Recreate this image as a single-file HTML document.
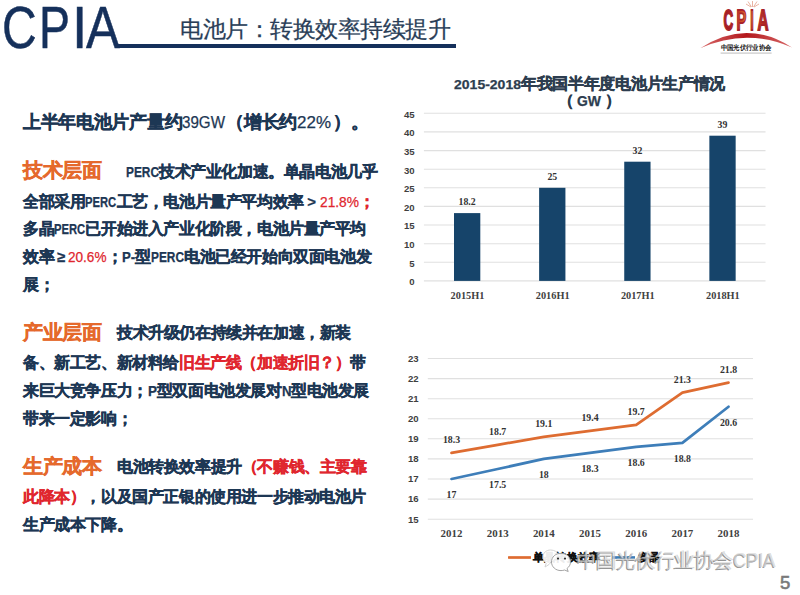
<!DOCTYPE html>
<html><head><meta charset="utf-8">
<style>
html,body{margin:0;padding:0;background:#fff;}
body{width:800px;height:595px;overflow:hidden;position:relative;font-family:"Liberation Sans",sans-serif;}
.ln{position:absolute;white-space:nowrap;line-height:20px;font-weight:bold;}
i{display:inline-block;width:1em;text-align:center;font-style:normal;}
.ln i{-webkit-text-stroke:0.4px currentColor;}
.l{display:inline-block;white-space:nowrap;}
.l em{display:inline-block;font-style:normal;white-space:pre;-webkit-text-stroke:0.25px currentColor;}
.n{color:#1D3754;}
.o{color:#E5692C;}
.ln .o i{-webkit-text-stroke:0.45px currentColor;}
.r{color:#E0262E;}
.ch{position:absolute;left:0;top:0;}
.ax{font-size:9.6px;fill:#3F3F3F;font-family:"Liberation Sans",sans-serif;font-weight:bold;}
.dl{font-size:9.8px;fill:#333;font-family:"Liberation Serif",serif;font-weight:bold;}
.xl{font-size:10px;fill:#404040;font-family:"Liberation Serif",serif;font-weight:bold;}
.xb{font-size:10.3px;}
.t{color:#2D3D4F;}
.k{color:#111;}
.cp{position:absolute;top:-5px;font-size:59px;line-height:66px;color:#15305B;transform-origin:0 0;-webkit-text-stroke:0.5px #15305B;}
#hline{position:absolute;left:116px;top:44px;width:340px;height:4px;background:#15305B;}
#title{position:absolute;left:180px;top:16px;font-size:22.5px;line-height:28px;color:#2A3E58;white-space:nowrap;-webkit-text-stroke:0.25px #2A3E58;}
#pg{position:absolute;left:780px;top:572px;font-size:18.5px;font-weight:normal;color:#7A7A7A;-webkit-text-stroke:0.6px #7A7A7A;}
#wm{position:absolute;left:576.5px;top:547px;font-size:19.5px;line-height:26px;color:rgba(235,235,235,0.55);white-space:nowrap;
  text-shadow:-0.8px 0.6px 0 rgba(130,130,130,0.85),0.5px -0.4px 0 rgba(200,200,200,0.7);}
</style></head><body>
<div class="cp" style="left:2.46px;transform:scaleX(0.8135)">C</div><div class="cp" style="left:39.06px;transform:scaleX(0.7875)">P</div><div class="cp" style="left:71.73px;transform:scaleX(0.9333)">I</div><div class="cp" style="left:86.00px;transform:scaleX(0.8564)">A</div>
<div id="hline"></div>
<svg class="ch" width="800" height="60" viewBox="0 0 800 60">
<defs>
<radialGradient id="lg" gradientUnits="userSpaceOnUse" cx="748" cy="17" r="22">
<stop offset="0" stop-color="#E8812E"/><stop offset="0.5" stop-color="#C73A26"/><stop offset="1" stop-color="#A51C22"/>
</radialGradient>
<linearGradient id="ag" x1="0" y1="0" x2="1" y2="0">
<stop offset="0" stop-color="#D86A6A"/><stop offset="0.5" stop-color="#B3171C"/><stop offset="1" stop-color="#D86A6A"/>
</linearGradient>
</defs>
<g stroke="#E3A08A" stroke-width="0.8">
<line x1="752.5" y1="7" x2="752.5" y2="1"/><line x1="751.5" y1="7" x2="748" y2="1.5"/><line x1="753.5" y1="7" x2="757" y2="1.5"/>
<line x1="751" y1="7" x2="746" y2="4"/><line x1="754" y1="7" x2="759" y2="4"/>
</g>
<g font-family="Liberation Sans" font-weight="bold" font-size="30" fill="url(#lg)" stroke="#A8242A" stroke-width="1.8"><text x="723.5" y="30" textLength="9.7" lengthAdjust="spacingAndGlyphs">C</text><text x="736.6" y="30" textLength="9.8" lengthAdjust="spacingAndGlyphs">P</text><text x="750.3" y="30" textLength="3.4" lengthAdjust="spacingAndGlyphs">I</text><text x="757.5" y="30" textLength="11" lengthAdjust="spacingAndGlyphs">A</text></g>
<path d="M700.2,48.3 Q746,18 792,47.5 Q746,27.5 700.2,48.3 Z" fill="url(#ag)"/>
<text x="720.6" y="50.3" textLength="51" lengthAdjust="spacingAndGlyphs" font-family="Liberation Sans" font-weight="bold" font-size="7" fill="#1A1A1A">中国光伏行业协会</text>
<rect x="720.6" y="52.5" width="51" height="1.2" fill="#C8C8C8"/>
</svg>
<div id="title"><span class=""><i>电</i><i>池</i><i>片</i><i>：</i><i>转</i><i>换</i><i>效</i><i>率</i><i>持</i><i>续</i><i>提</i><i>升</i></span></div>
<div class="ln" style="left:23px;top:112px;font-size:17.7px;"><span class="n"><i>上</i><i>半</i><i>年</i><i>电</i><i>池</i><i>片</i><i>产</i><i>量</i><i>约</i></span><span class="l n" style="width:44px;text-align:left"><em style="font-size:17px;font-weight:normal;transform:scaleX(0.8923);transform-origin:0 0">39GW</em></span><span class="n"><i>（</i><i>增</i><i>长</i><i>约</i></span><span class="l n" style="width:36px;text-align:left"><em style="font-size:17px;font-weight:normal;transform:scaleX(0.9991);transform-origin:0 0">22%</em></span><span class="n"><i>）</i><i>。</i></span></div>
<div class="ln" style="left:23px;top:159.5px;font-size:19.5px;"><span class="o"><i>技</i><i>术</i><i>层</i><i>面</i></span></div>
<div class="ln" style="left:126px;top:161.5px;font-size:15.6px;"><span class="l n" style="width:33px;text-align:left"><em style="font-size:14px;font-weight:bold;transform:scaleX(0.8482);transform-origin:0 0">PERC</em></span><span class="n"><i>技</i><i>术</i><i>产</i><i>业</i><i>化</i><i>加</i><i>速</i><i>。</i><i>单</i><i>晶</i><i>电</i><i>池</i><i>几</i><i>乎</i></span></div>
<div class="ln" style="left:23px;top:192px;font-size:15.6px;"><span class="n"><i>全</i><i>部</i><i>采</i><i>用</i></span><span class="l n" style="width:31.2px;text-align:left"><em style="font-size:14px;font-weight:bold;transform:scaleX(0.8019);transform-origin:0 0">PERC</em></span><span class="n"><i>工</i><i>艺</i><i>，</i><i>电</i><i>池</i><i>片</i><i>量</i><i>产</i><i>平</i><i>均</i><i>效</i><i>率</i></span><span class="l n" style="width:16px;text-align:center"><em style="font-size:15px;font-weight:bold;transform:scaleX(1.0000);transform-origin:50% 0">&gt;</em></span><span class="l r" style="width:39px;text-align:left"><em style="font-size:14.5px;font-weight:normal;transform:scaleX(0.9483);transform-origin:0 0">21.8%</em></span><span class="r"><i>；</i></span></div>
<div class="ln" style="left:23px;top:219px;font-size:15.6px;"><span class="n"><i>多</i><i>晶</i></span><span class="l n" style="width:31.2px;text-align:left"><em style="font-size:14px;font-weight:bold;transform:scaleX(0.8019);transform-origin:0 0">PERC</em></span><span class="n"><i>已</i><i>开</i><i>始</i><i>进</i><i>入</i><i>产</i><i>业</i><i>化</i><i>阶</i><i>段</i><i>，</i><i>电</i><i>池</i><i>片</i><i>量</i><i>产</i><i>平</i><i>均</i></span></div>
<div class="ln" style="left:23px;top:247px;font-size:15.6px;"><span class="n"><i>效</i><i>率</i></span><span class="l n" style="width:14px;text-align:center"><em style="font-size:15px;font-weight:bold;transform:scaleX(1.0000);transform-origin:50% 0">≥</em></span><span class="l r" style="width:38.5px;text-align:left"><em style="font-size:14.5px;font-weight:normal;transform:scaleX(0.9362);transform-origin:0 0">20.6%</em></span><span class="n"><i>；</i></span><span class="l n" style="width:13.2px;text-align:left"><em style="font-size:14px;font-weight:bold;transform:scaleX(0.9429);transform-origin:0 0">P-</em></span><span class="n"><i>型</i></span><span class="l n" style="width:33px;text-align:left"><em style="font-size:14px;font-weight:bold;transform:scaleX(0.8482);transform-origin:0 0">PERC</em></span><span class="n"><i>电</i><i>池</i><i>已</i><i>经</i><i>开</i><i>始</i><i>向</i><i>双</i><i>面</i><i>电</i><i>池</i><i>发</i></span></div>
<div class="ln" style="left:23px;top:275px;font-size:15.6px;"><span class="n"><i>展</i><i>；</i></span></div>
<div class="ln" style="left:23px;top:321.5px;font-size:19.5px;"><span class="o"><i>产</i><i>业</i><i>层</i><i>面</i></span></div>
<div class="ln" style="left:117px;top:322.5px;font-size:15.6px;"><span class="n"><i>技</i><i>术</i><i>升</i><i>级</i><i>仍</i><i>在</i><i>持</i><i>续</i><i>并</i><i>在</i><i>加</i><i>速</i><i>，</i><i>新</i><i>装</i></span></div>
<div class="ln" style="left:23px;top:353px;font-size:15.6px;"><span class="n"><i>备</i><i>、</i><i>新</i><i>工</i><i>艺</i><i>、</i><i>新</i><i>材</i><i>料</i><i>给</i></span><span class="r"><i>旧</i><i>生</i><i>产</i><i>线</i><i>（</i><i>加</i><i>速</i><i>折</i><i>旧</i><i>？</i><i>）</i></span><span class="n"><i>带</i></span></div>
<div class="ln" style="left:23px;top:381px;font-size:15.6px;"><span class="n"><i>来</i><i>巨</i><i>大</i><i>竞</i><i>争</i><i>压</i><i>力</i><i>；</i></span><span class="l n" style="width:9px;text-align:left"><em style="font-size:14px;font-weight:bold;transform:scaleX(0.9632);transform-origin:0 0">P</em></span><span class="n"><i>型</i><i>双</i><i>面</i><i>电</i><i>池</i><i>发</i><i>展</i><i>对</i></span><span class="l n" style="width:9.5px;text-align:left"><em style="font-size:14px;font-weight:bold;transform:scaleX(0.9383);transform-origin:0 0">N</em></span><span class="n"><i>型</i><i>电</i><i>池</i><i>发</i><i>展</i></span></div>
<div class="ln" style="left:23px;top:409px;font-size:15.6px;"><span class="n"><i>带</i><i>来</i><i>一</i><i>定</i><i>影</i><i>响</i><i>；</i></span></div>
<div class="ln" style="left:23px;top:455.5px;font-size:19.5px;"><span class="o"><i>生</i><i>产</i><i>成</i><i>本</i></span></div>
<div class="ln" style="left:117px;top:456.5px;font-size:15.6px;"><span class="n"><i>电</i><i>池</i><i>转</i><i>换</i><i>效</i><i>率</i><i>提</i><i>升</i></span><span class="r"><i>（</i><i>不</i><i>赚</i><i>钱</i><i>、</i><i>主</i><i>要</i><i>靠</i></span></div>
<div class="ln" style="left:23px;top:487px;font-size:15.6px;"><span class="r"><i>此</i><i>降</i><i>本</i><i>）</i></span><span class="n"><i>，</i><i>以</i><i>及</i><i>国</i><i>产</i><i>正</i><i>银</i><i>的</i><i>使</i><i>用</i><i>进</i><i>一</i><i>步</i><i>推</i><i>动</i><i>电</i><i>池</i><i>片</i></span></div>
<div class="ln" style="left:23px;top:515px;font-size:15.6px;"><span class="n"><i>生</i><i>产</i><i>成</i><i>本</i><i>下</i><i>降</i><i>。</i></span></div>

<svg class="ch" width="800" height="595" viewBox="0 0 800 595">
<line x1="423.9" y1="280.9" x2="765.5" y2="280.9" stroke="#E0E0E0" stroke-width="1.1"/><text x="414.6" y="285.2" text-anchor="end" class="ax">0</text><line x1="423.9" y1="262.3" x2="765.5" y2="262.3" stroke="#E0E0E0" stroke-width="1.1"/><text x="414.6" y="266.6" text-anchor="end" class="ax">5</text><line x1="423.9" y1="243.7" x2="765.5" y2="243.7" stroke="#E0E0E0" stroke-width="1.1"/><text x="414.6" y="248.0" text-anchor="end" class="ax">10</text><line x1="423.9" y1="225.0" x2="765.5" y2="225.0" stroke="#E0E0E0" stroke-width="1.1"/><text x="414.6" y="229.3" text-anchor="end" class="ax">15</text><line x1="423.9" y1="206.4" x2="765.5" y2="206.4" stroke="#E0E0E0" stroke-width="1.1"/><text x="414.6" y="210.7" text-anchor="end" class="ax">20</text><line x1="423.9" y1="187.8" x2="765.5" y2="187.8" stroke="#E0E0E0" stroke-width="1.1"/><text x="414.6" y="192.1" text-anchor="end" class="ax">25</text><line x1="423.9" y1="169.2" x2="765.5" y2="169.2" stroke="#E0E0E0" stroke-width="1.1"/><text x="414.6" y="173.5" text-anchor="end" class="ax">30</text><line x1="423.9" y1="150.6" x2="765.5" y2="150.6" stroke="#E0E0E0" stroke-width="1.1"/><text x="414.6" y="154.9" text-anchor="end" class="ax">35</text><line x1="423.9" y1="131.9" x2="765.5" y2="131.9" stroke="#E0E0E0" stroke-width="1.1"/><text x="414.6" y="136.2" text-anchor="end" class="ax">40</text><line x1="423.9" y1="113.3" x2="765.5" y2="113.3" stroke="#E0E0E0" stroke-width="1.1"/><text x="414.6" y="117.6" text-anchor="end" class="ax">45</text><rect x="454.00" y="213.1" width="26.3" height="67.8" fill="#16446A"/><text x="467.1" y="205.3" text-anchor="middle" class="dl">18.2</text><text x="467.5" y="298.8" text-anchor="middle" class="xl xb">2015H1</text><rect x="539.12" y="187.8" width="26.3" height="93.1" fill="#16446A"/><text x="552.3" y="180.0" text-anchor="middle" class="dl">25</text><text x="552.7" y="298.8" text-anchor="middle" class="xl xb">2016H1</text><rect x="624.24" y="161.7" width="26.3" height="119.2" fill="#16446A"/><text x="637.4" y="153.9" text-anchor="middle" class="dl">32</text><text x="637.8" y="298.8" text-anchor="middle" class="xl xb">2017H1</text><rect x="709.36" y="135.7" width="26.3" height="145.2" fill="#16446A"/><text x="722.5" y="127.9" text-anchor="middle" class="dl">39</text><text x="722.9" y="298.8" text-anchor="middle" class="xl xb">2018H1</text>
<line x1="427.8" y1="519.2" x2="753.0" y2="519.2" stroke="#E0E0E0" stroke-width="1.1"/><text x="418.6" y="522.5" text-anchor="end" class="ax">15</text><line x1="427.8" y1="499.1" x2="753.0" y2="499.1" stroke="#E0E0E0" stroke-width="1.1"/><text x="418.6" y="502.4" text-anchor="end" class="ax">16</text><line x1="427.8" y1="479.0" x2="753.0" y2="479.0" stroke="#E0E0E0" stroke-width="1.1"/><text x="418.6" y="482.3" text-anchor="end" class="ax">17</text><line x1="427.8" y1="458.9" x2="753.0" y2="458.9" stroke="#E0E0E0" stroke-width="1.1"/><text x="418.6" y="462.2" text-anchor="end" class="ax">18</text><line x1="427.8" y1="438.8" x2="753.0" y2="438.8" stroke="#E0E0E0" stroke-width="1.1"/><text x="418.6" y="442.1" text-anchor="end" class="ax">19</text><line x1="427.8" y1="418.8" x2="753.0" y2="418.8" stroke="#E0E0E0" stroke-width="1.1"/><text x="418.6" y="422.1" text-anchor="end" class="ax">20</text><line x1="427.8" y1="398.7" x2="753.0" y2="398.7" stroke="#E0E0E0" stroke-width="1.1"/><text x="418.6" y="402.0" text-anchor="end" class="ax">21</text><line x1="427.8" y1="378.6" x2="753.0" y2="378.6" stroke="#E0E0E0" stroke-width="1.1"/><text x="418.6" y="381.9" text-anchor="end" class="ax">22</text><line x1="427.8" y1="358.5" x2="753.0" y2="358.5" stroke="#E0E0E0" stroke-width="1.1"/><text x="418.6" y="361.8" text-anchor="end" class="ax">23</text><polyline points="451.5,479.0 497.7,469.0 543.8,458.9 590.0,452.9 636.2,446.9 682.4,442.9 728.5,406.7" fill="none" stroke="#3E7EB9" stroke-width="2.7" stroke-linejoin="round" stroke-linecap="round"/><polyline points="451.5,452.9 497.7,444.9 543.8,436.8 590.0,430.8 636.2,424.8 682.4,392.6 728.5,382.6" fill="none" stroke="#DE6C31" stroke-width="2.7" stroke-linejoin="round" stroke-linecap="round"/><text x="451.5" y="537.4" text-anchor="middle" class="xl" style="font-size:10.9px">2012</text><text x="451.5" y="442.8" text-anchor="middle" class="dl">18.3</text><text x="451.5" y="498.2" text-anchor="middle" class="dl">17</text><text x="497.7" y="537.4" text-anchor="middle" class="xl" style="font-size:10.9px">2013</text><text x="497.7" y="434.8" text-anchor="middle" class="dl">18.7</text><text x="497.7" y="488.2" text-anchor="middle" class="dl">17.5</text><text x="543.8" y="537.4" text-anchor="middle" class="xl" style="font-size:10.9px">2014</text><text x="543.8" y="426.7" text-anchor="middle" class="dl">19.1</text><text x="543.8" y="478.1" text-anchor="middle" class="dl">18</text><text x="590.0" y="537.4" text-anchor="middle" class="xl" style="font-size:10.9px">2015</text><text x="590.0" y="420.7" text-anchor="middle" class="dl">19.4</text><text x="590.0" y="472.1" text-anchor="middle" class="dl">18.3</text><text x="636.2" y="537.4" text-anchor="middle" class="xl" style="font-size:10.9px">2016</text><text x="636.2" y="414.7" text-anchor="middle" class="dl">19.7</text><text x="636.2" y="466.1" text-anchor="middle" class="dl">18.6</text><text x="682.4" y="537.4" text-anchor="middle" class="xl" style="font-size:10.9px">2017</text><text x="682.4" y="382.5" text-anchor="middle" class="dl">21.3</text><text x="682.4" y="462.1" text-anchor="middle" class="dl">18.8</text><text x="728.5" y="537.4" text-anchor="middle" class="xl" style="font-size:10.9px">2018</text><text x="728.5" y="372.5" text-anchor="middle" class="dl">21.8</text><text x="728.5" y="425.9" text-anchor="middle" class="dl">20.6</text><line x1="508" y1="557.5" x2="531" y2="557.5" stroke="#DE6C31" stroke-width="2.7"/><line x1="612" y1="557.5" x2="635" y2="557.5" stroke="#3E7EB9" stroke-width="2.7"/>
</svg>
<div class="ln" style="left:454px;top:74px;font-size:15.7px;"><span class="l t" style="width:67px;text-align:left"><em style="font-size:13px;font-weight:bold;transform:scaleX(1.0777);transform-origin:0 0">2015-2018</em></span><span class="t"><i>年</i><i>我</i><i>国</i><i>半</i><i>年</i><i>度</i><i>电</i><i>池</i><i>片</i><i>生</i><i>产</i><i>情</i><i>况</i></span></div>
<div class="ln" style="left:558px;top:91px;font-size:15.7px;"><span class="t"><i>（</i></span><span class="l t" style="width:31.3px;text-align:center"><em style="font-size:13.8px;font-weight:bold;transform:scaleX(1.0099);transform-origin:50% 0">GW</em></span><span class="t"><i>）</i></span></div>
<div class="ln" style="left:532.5px;top:547px;font-size:11.3px;"><span class="k"><i>单</i><i>晶</i><i>转</i><i>换</i><i>效</i><i>率</i></span></div>
<div class="ln" style="left:638px;top:547px;font-size:11.3px;"><span class="k"><i>多</i><i>晶</i></span></div>

<svg class="ch" width="800" height="595" viewBox="0 0 800 595">
<g fill="rgba(255,255,255,0.92)" stroke="#9A9A9A" stroke-width="0.9">
<path stroke="#CFCFCF" d="M549,564.5 l-4,2.5 l1.2,-3.8 C544,561.5 543,559.5 543,557 C543,552.5 546.5,550 550.5,550 C554.5,550 557.5,552 558,554.5 Z"/>
<path d="M561,553.3 C566.5,553.3 570.5,557 570.5,562 C570.5,564.8 569,567 567,568.5 L568.2,571.5 L564.5,570 C563.4,570.4 562.2,570.6 561,570.6 C555.5,570.6 551.5,566.7 551.5,562 C551.5,557 555.5,553.3 561,553.3 Z"/>
</g>
<circle cx="558" cy="558.6" r="1.1" fill="#333"/><circle cx="565" cy="558.6" r="1.1" fill="#333"/>
</svg>
<div id="wm"><span class="w"><i>中</i><i>国</i><i>光</i><i>伏</i><i>行</i><i>业</i><i>协</i><i>会</i></span><span class="l w" style="width:42px;text-align:left"><em style="font-size:20px;font-weight:normal;transform:scaleX(0.8996);transform-origin:0 0">CPIA</em></span></div>
<div id="pg">5</div>
</body></html>
